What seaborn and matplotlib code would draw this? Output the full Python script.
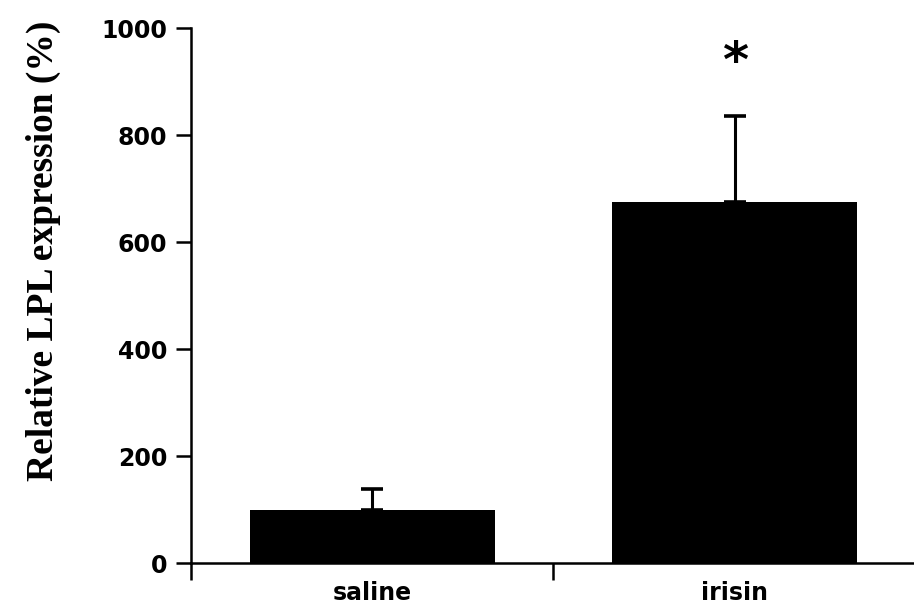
import matplotlib
matplotlib.use("Agg")
import matplotlib.pyplot as plt
import seaborn as sns
import pandas as pd

categories = ["saline", "irisin"]
means = [100, 675]
errors = [38, 160]
yticks = [0, 200, 400, 600, 800, 1000]
star_y = 935

sns.set_style("ticks")
plt.rcParams['font.family'] = ['DejaVu Sans']
plt.rcParams['text.color'] = 'black'
plt.rcParams['xtick.color'] = 'black'
plt.rcParams['ytick.color'] = 'black'
plt.rcParams['axes.labelcolor'] = 'black'

df = pd.DataFrame({"group": categories, "value": means})

fig = plt.figure(figsize=(9.14, 6.10), dpi=100)
ax = fig.add_axes([0.209, 0.077, 0.793, 0.877])

sns.barplot(data=df, x="group", y="value", order=categories, color="black",
            width=0.675, errorbar=None, saturation=1, ax=ax,
            edgecolor="black", linewidth=0)

xs = list(range(len(categories)))
ax.errorbar(xs, means, yerr=[[0]*len(errors), errors], fmt="none",
            ecolor="black", elinewidth=2.2, capsize=8, capthick=2.6, zorder=1)

ax.text(1, star_y, "*", ha="center", va="center", fontsize=36,
        fontweight="bold", family="DejaVu Sans", color="black")

ax.set_xlim(-0.5, 1.5)
ax.set_ylim(0, 1000)
ax.set_yticks(yticks)
ax.set_yticklabels([str(v) for v in yticks], fontsize=17, fontweight="bold")
ax.set_xticks(xs)
ax.set_xticklabels(categories, fontsize=17, fontweight="bold")
ax.tick_params(axis="x", which="major", length=0, pad=13)
ax.set_xticks([-0.5, 0.5, 1.5], minor=True)
ax.tick_params(axis="x", which="minor", length=12, width=1.8, color="black")
ax.tick_params(axis="y", length=11, width=1.8, color="black", pad=6)

ax.set_xlabel("")
ax.set_ylabel("Relative LPL expression (%)", fontsize=27, fontweight="bold",
              family=["Liberation Serif", "DejaVu Serif"])
ax.yaxis.set_label_coords(-0.179, 0.583)

for side in ["top", "right"]:
    ax.spines[side].set_visible(False)
for side in ["left", "bottom"]:
    ax.spines[side].set_linewidth(1.8)
    ax.spines[side].set_color("black")

fig.savefig("out.png", dpi=100)
